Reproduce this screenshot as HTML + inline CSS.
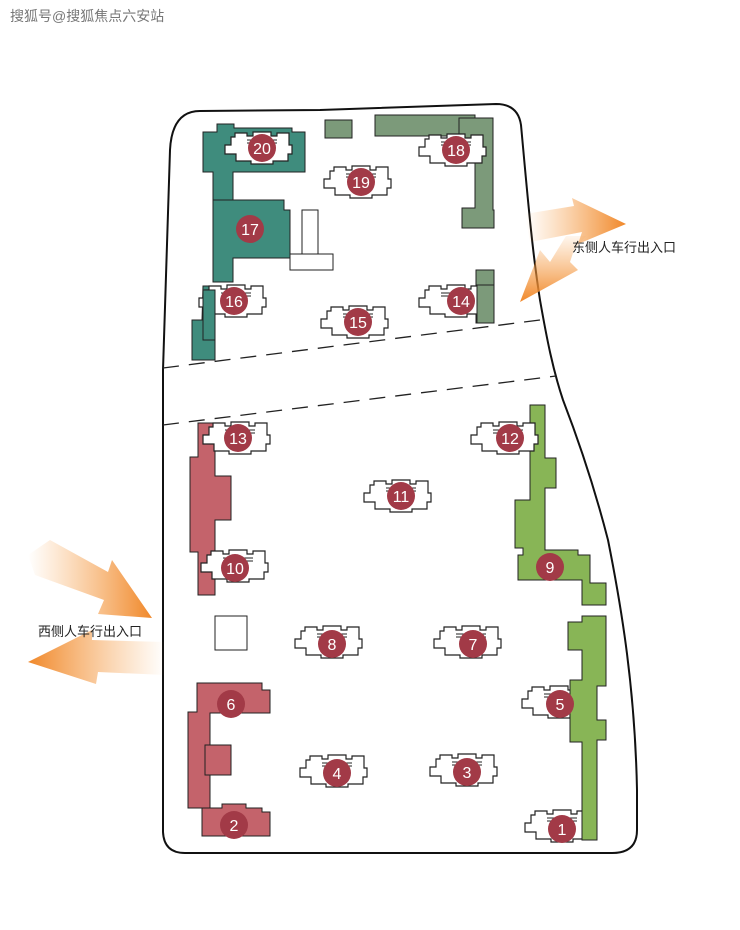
<!DOCTYPE html>
<html><head><meta charset="utf-8"><style>
html,body{margin:0;padding:0;background:#fff;}
svg{display:block;}
text{font-family:"Liberation Sans","Noto Sans CJK SC",sans-serif;}
</style></head><body>
<svg width="740" height="930" viewBox="0 0 740 930" xmlns="http://www.w3.org/2000/svg">
<defs>
<symbol id="b" viewBox="-40 -18 80 36" overflow="visible">
<path d="M-27,-15 H-15 V-12 H-9 V-16 H9 V-12 H15 V-15 H27 V-3 H30 V6 H26 V13 H11 V16 H-11 V13 H-26 V6 H-37 V-3 H-31 V-11 H-27 Z" fill="#fff" stroke="#222" stroke-width="1.2"/>
<path d="M-15,-8 H15 M-15,-5 H15" stroke="#222" stroke-width="1" fill="none"/>
</symbol>
<linearGradient id="gR" x1="0" y1="0" x2="1" y2="0"><stop offset="0" stop-color="#f7a24c" stop-opacity="0"/><stop offset="1" stop-color="#f0882a"/></linearGradient>
<linearGradient id="gL" x1="1" y1="0" x2="0" y2="0"><stop offset="0" stop-color="#f7a24c" stop-opacity="0"/><stop offset="1" stop-color="#f0882a"/></linearGradient>
<linearGradient id="gD" x1="0" y1="0" x2="0" y2="1"><stop offset="0" stop-color="#f7a24c" stop-opacity="0.1"/><stop offset="1" stop-color="#f0882a"/></linearGradient>
</defs>
<rect width="740" height="930" fill="#fff"/>
<text x="10" y="21" font-size="14" fill="#777">搜狐号@搜狐焦点六安站</text>

<path d="M200,111 L320,110 L496,104 Q518,104 521,125 C527,190 532,250 540,300 C547,340 553,370 563,400 Q590,470 608,540 C622,610 635,690 637,790 L637,830 Q637,853 612,853 L185,853 Q164,853 163,832 L163,370 L170,150 Q172,111 200,111 Z" fill="#fff" stroke="#111" stroke-width="2"/>
<path d="M163,368 L540,320" stroke="#222" stroke-width="1.3" stroke-dasharray="16,10" fill="none"/>
<path d="M163,425 L556,376" stroke="#222" stroke-width="1.3" stroke-dasharray="16,10" fill="none"/>

<g stroke="#222" stroke-width="1">
<path d="M203,132 H217 V124 H234 V128 H292 V132 H305 V172 H233 V200 H213 V172 H203 Z" fill="#3f8c7d"/>
<path d="M213,200 H284 V210 H290 V258 H233 V282 H213 Z" fill="#3f8c7d"/>
<path d="M203,286 H215 V360 H192 V320 H202 Z" fill="#3f8c7d"/>
<rect x="325" y="120" width="27" height="18" fill="#7c9a7a"/>
<rect x="375" y="115" width="100" height="21" fill="#7c9a7a"/>
<path d="M459,118 H493 V210 H494 V228 H462 V208 H475 V150 H459 Z" fill="#7c9a7a"/>
<rect x="476" y="270" width="18" height="53" fill="#7c9a7a"/>
<rect x="302" y="210" width="16" height="44" fill="#fff"/>
<rect x="290" y="254" width="43" height="16" fill="#fff"/>
<rect x="215" y="616" width="32" height="34" fill="#fff"/>
<path d="M198,423 H215 V476 H231 V520 H215 V595 H198 V552 H190 V457 H198 Z" fill="#c4636b"/>
<path d="M197,683 H262 V690 H270 V713 H210 V808 H188 V712 H197 Z" fill="#c4636b"/>
<rect x="205" y="745" width="26" height="30" fill="#c4636b"/>
<path d="M202,808 H222 V804 H246 V808 H262 V812 H270 V836 H202 Z" fill="#c4636b"/>
<path d="M530,405 H545 V458 H556 V488 H545 V550 H578 V555 H590 V583 H606 V605 H582 V580 H518 V555 H523 V548 H515 V500 H530 Z" fill="#88b556"/>
</g>

<g>
<use href="#b" x="262" y="148" width="80" height="36" transform="translate(-40,-18)"/>
<use href="#b" x="456" y="150" width="80" height="36" transform="translate(-40,-18)"/>
<use href="#b" x="361" y="182" width="80" height="36" transform="translate(-40,-18)"/>
<use href="#b" x="236" y="301" width="80" height="36" transform="translate(-40,-18)"/>
<use href="#b" x="358" y="322" width="80" height="36" transform="translate(-40,-18)"/>
<use href="#b" x="456" y="301" width="80" height="36" transform="translate(-40,-18)"/>
<use href="#b" x="240" y="438" width="80" height="36" transform="translate(-40,-18)"/>
<use href="#b" x="508" y="438" width="80" height="36" transform="translate(-40,-18)"/>
<use href="#b" x="401" y="496" width="80" height="36" transform="translate(-40,-18)"/>
<use href="#b" x="238" y="566" width="80" height="36" transform="translate(-40,-18)"/>
<use href="#b" x="332" y="642" width="80" height="36" transform="translate(-40,-18)"/>
<use href="#b" x="471" y="642" width="80" height="36" transform="translate(-40,-18)"/>
<use href="#b" x="559" y="702" width="80" height="36" transform="translate(-40,-18)"/>
<use href="#b" x="337" y="771" width="80" height="36" transform="translate(-40,-18)"/>
<use href="#b" x="467" y="770" width="80" height="36" transform="translate(-40,-18)"/>
<use href="#b" x="562" y="826" width="80" height="36" transform="translate(-40,-18)"/>
</g>
<g stroke="#222" stroke-width="1">
<rect x="477" y="285" width="17" height="38" fill="#7c9a7a"/>
<rect x="203" y="290" width="12" height="50" fill="#3f8c7d"/>
<path d="M582,616 H606 V686 H597 V720 H606 V740 H597 V840 H582 V742 H570 V680 H582 V650 H568 V622 H582 Z" fill="#88b556"/>
</g>

<g fill="#a23a47">
<circle cx="262" cy="148" r="14"/><circle cx="456" cy="150" r="14"/><circle cx="361" cy="182" r="14"/>
<circle cx="250" cy="229" r="14"/><circle cx="234" cy="301" r="14"/><circle cx="358" cy="322" r="14"/>
<circle cx="461" cy="301" r="14"/><circle cx="238" cy="438" r="14"/><circle cx="510" cy="438" r="14"/>
<circle cx="401" cy="496" r="14"/><circle cx="235" cy="568" r="14"/><circle cx="550" cy="567" r="14"/>
<circle cx="332" cy="644" r="14"/><circle cx="473" cy="644" r="14"/><circle cx="231" cy="704" r="14"/>
<circle cx="560" cy="704" r="14"/><circle cx="337" cy="773" r="14"/><circle cx="467" cy="772" r="14"/>
<circle cx="234" cy="825" r="14"/><circle cx="562" cy="829" r="14"/>
</g>
<g fill="#fff" font-size="16" text-anchor="middle">
<text x="262" y="154">20</text><text x="456" y="156">18</text><text x="361" y="188">19</text>
<text x="250" y="235">17</text><text x="234" y="307">16</text><text x="358" y="328">15</text>
<text x="461" y="307">14</text><text x="238" y="444">13</text><text x="510" y="444">12</text>
<text x="401" y="502">11</text><text x="235" y="574">10</text><text x="550" y="573">9</text>
<text x="332" y="650">8</text><text x="473" y="650">7</text><text x="231" y="710">6</text>
<text x="560" y="710">5</text><text x="337" y="779">4</text><text x="467" y="778">3</text>
<text x="234" y="831">2</text><text x="562" y="835">1</text>
</g>

<polygon points="525,214 574,206 572,198 626,224 578,244 582,232 530,242" fill="url(#gR)"/>
<polygon points="586,236 574,250 570,262 578,270 520,302 540,250 550,262 566,236" fill="url(#gD)"/>
<polygon points="28,555 50,540 108,572 112,560 152,618 98,614 104,600 35,575" fill="url(#gR)"/>
<polygon points="165,642 92,640 92,630 28,662 96,684 98,672 165,675" fill="url(#gL)"/>

<text x="572" y="252" font-size="13" fill="#222">东侧人车行出入口</text>
<text x="38" y="636" font-size="13" fill="#222">西侧人车行出入口</text>
</svg>
</body></html>
